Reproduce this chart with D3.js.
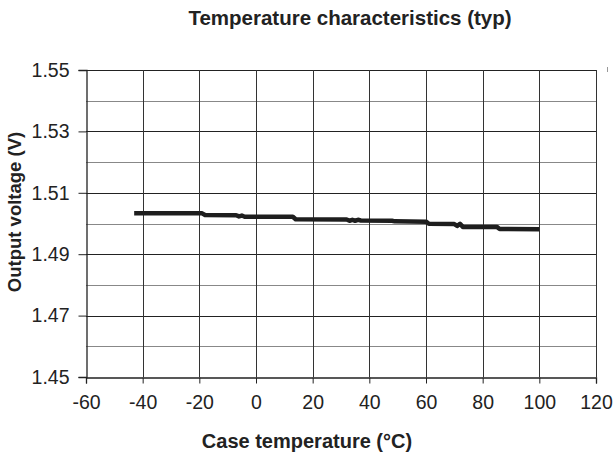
<!DOCTYPE html>
<html><head><meta charset="utf-8">
<script src="https://cdn.jsdelivr.net/npm/d3@7"></script>
<style>body{margin:0;background:#fff}svg{display:block}text{font-family:"Liberation Sans",Arial,sans-serif;fill:#222}</style>
</head><body><svg id="c" width="613" height="459"></svg>
<script>
const temps = [-43, -19, -18, -7, -6, -5, -4, 13, 14, 32, 33, 34, 35, 36, 37, 48, 49, 60, 61, 70, 71, 72, 73, 85, 86, 100];
const volts = [1.5033, 1.5033, 1.5028, 1.5027, 1.5023, 1.5026, 1.5022, 1.5022, 1.5014, 1.5013, 1.5009, 1.5012, 1.5009, 1.5012, 1.5010, 1.5009, 1.5007, 1.5006, 1.4999, 1.4998, 1.4992, 1.4999, 1.4989, 1.4989, 1.4982, 1.4981];
const xTicks = [-60, -40, -20, 0, 20, 40, 60, 80, 100, 120];
const yLabelTicks = [1.45, 1.47, 1.49, 1.51, 1.53, 1.55];
const yGrid = [1.46, 1.47, 1.48, 1.49, 1.50, 1.51, 1.52, 1.53, 1.54, 1.55];
const title = "Temperature characteristics (typ)";
const xTitle = "Case temperature (°C)";
const yTitle = "Output voltage (V)";

const svg = d3.select("#c");
const x = d3.scaleLinear().domain([-60, 120]).range([86, 596]);
const y = d3.scaleLinear().domain([1.45, 1.55]).range([377, 70]);

// horizontal gridlines
svg.append("g").selectAll("line").data(yGrid).join("line")
  .attr("x1", x(-60)).attr("x2", x(120))
  .attr("y1", d => Math.round(y(d)) + 0.5).attr("y2", d => Math.round(y(d)) + 0.5)
  .attr("stroke", d => yLabelTicks.some(v => Math.abs(v - d) < 1e-9) ? "#222" : "#888")
  .attr("stroke-width", 1);
// vertical gridlines
svg.append("g").selectAll("line").data(xTicks.slice(1)).join("line")
  .attr("x1", d => Math.round(x(d)) + 0.5).attr("x2", d => Math.round(x(d)) + 0.5)
  .attr("y1", y(1.55)).attr("y2", y(1.45))
  .attr("stroke", "#333").attr("stroke-width", 1);

// axes
const xAxis = d3.axisBottom(x).tickValues(xTicks).tickSize(6).tickPadding(12).tickFormat(d => String(d));
const gx = svg.append("g").attr("transform", `translate(0,${Math.round(y(1.45)) + 0.5})`).call(xAxis);
const yAxis = d3.axisLeft(y).tickValues(yLabelTicks).tickSize(8).tickPadding(9).tickFormat(d3.format(".2f"));
const gy = svg.append("g").attr("transform", `translate(${Math.round(x(-60)) + 0.5},0)`).call(yAxis);
[gx, gy].forEach(g => {
  g.select(".domain").attr("stroke", "#222").attr("stroke-width", 1.3);
  g.selectAll(".tick line").attr("stroke", "#222");
  g.selectAll(".tick text").attr("font-size", 19.5).attr("fill", "#222")
   .attr("font-family", "'Liberation Sans', Arial, sans-serif");
});

// data line
const line = d3.line().x((d, i) => x(temps[i])).y(d => y(d));
svg.append("path").datum(volts).attr("d", line)
  .attr("fill", "none").attr("stroke", "#1e1e1e").attr("stroke-width", 4.5)
  .attr("stroke-linejoin", "round");

// stray mark at top right
svg.append("line").attr("x1", 607.5).attr("x2", 607.5).attr("y1", 67).attr("y2", 72).attr("stroke", "#999");

// titles
svg.append("text").attr("x", 350).attr("y", 25).attr("text-anchor", "middle")
  .attr("font-size", 20.5).attr("font-weight", "bold").text(title);
svg.append("text").attr("x", 307).attr("y", 448).attr("text-anchor", "middle")
  .attr("font-size", 20).attr("font-weight", "bold").text(xTitle);
svg.append("text").attr("transform", "translate(21,212) rotate(-90)").attr("text-anchor", "middle")
  .attr("font-size", 18.5).attr("font-weight", "bold").text(yTitle);
</script></body></html>
